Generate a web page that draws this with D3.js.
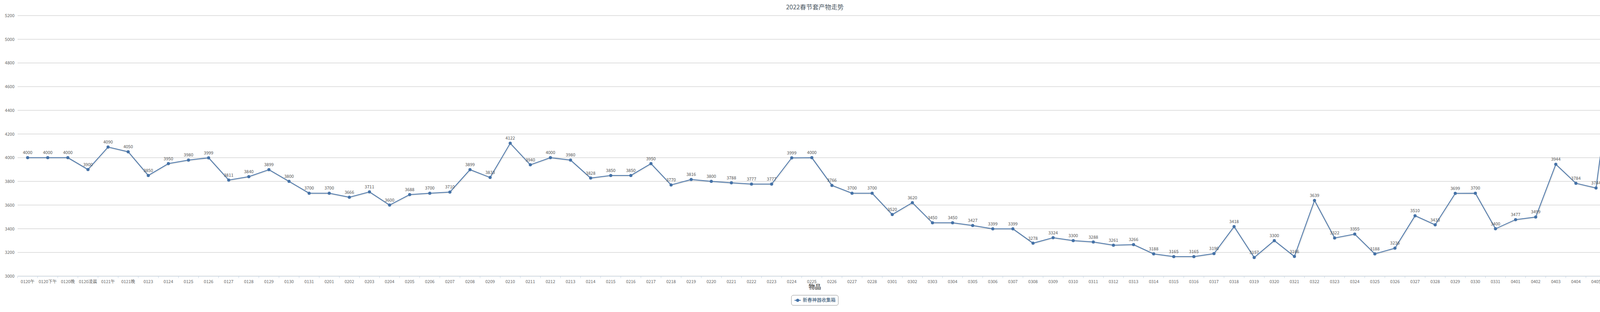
<!DOCTYPE html>
<html><head><meta charset="utf-8">
<script src="https://cdn.jsdelivr.net/npm/d3@7"></script>
<style>html,body{margin:0;padding:0;background:#fff;overflow:hidden}svg{display:block}text{font-family:"Noto Sans CJK SC","Open Sans",sans-serif}</style>
</head><body><svg id="c" width="4172" height="800" viewBox="0 0 4172 800"></svg>
<script>
const categories=["0120午","0120下午","0120晚","0120凌晨","0121午","0121晚","0123","0124","0125","0126","0127","0128","0129","0130","0131",
"0201","0202","0203","0204","0205","0206","0207","0208","0209","0210","0211","0212","0213","0214","0215","0216","0217","0218","0219","0220","0221","0222","0223","0224","0225","0226","0227","0228",
"0301","0302","0303","0304","0305","0306","0307","0308","0309","0310","0311","0312","0313","0314","0315","0316","0317","0318","0319","0320","0321","0322","0323","0324","0325","0326","0327","0328","0329","0330","0331",
"0401","0402","0403","0404","0405","0406"];
const values=[4000,4000,4000,3900,4090,4050,3850,3950,3980,3999,3811,3840,3899,3800,3700,
3700,3666,3711,3600,3688,3700,3710,3899,3833,4122,3940,4000,3980,3828,3850,3850,3950,3770,3816,3800,3788,3777,3777,3999,4000,3766,3700,3700,
3520,3620,3450,3450,3427,3399,3399,3278,3324,3300,3288,3261,3266,3188,3165,3165,3190,3418,3157,3300,3166,3639,3322,3355,3188,3236,3510,3433,3699,3700,3400,
3477,3499,3944,3784,3744,5000];
const yTicks=[3000,3200,3400,3600,3800,4000,4200,4400,4600,4800,5000,5200];
const seriesName="新春神器收集箱", title="2022春节套产物走势", xTitle="物品";
const color="#4572a7";
const svg=d3.select("#c");
const L=45,R=4163,T=40,B=708;
const x=d3.scaleBand().domain(categories).range([L,R]);
const y=d3.scaleLinear().domain([3000,5200]).range([B,T]);
svg.append("text").attr("x",2086).attr("y",24).attr("text-anchor","middle").attr("font-size",16).attr("fill","#4d5964").text(title);
const gy=svg.append("g");
gy.selectAll("line").data(yTicks).join("line").attr("x1",L).attr("x2",R).attr("y1",d=>y(d)).attr("y2",d=>y(d)).attr("stroke","#c0c0c0");
gy.selectAll("text").data(yTicks).join("text").attr("x",L-8).attr("y",d=>y(d)+4).attr("text-anchor","end").attr("font-size",11).attr("fill","#666").text(d=>d);
const gx=svg.append("g").attr("transform",`translate(0,${B})`).call(d3.axisBottom(x).tickSize(0).tickPadding(10));
gx.select(".domain").attr("stroke","#c0d0e0");
gx.selectAll("text").attr("font-size",11).attr("fill","#666").style("font-family",'"Noto Sans CJK SC",sans-serif');
svg.append("g").selectAll("line").data(categories).join("line").attr("x1",d=>x(d)).attr("x2",d=>x(d)).attr("y1",B).attr("y2",B+5).attr("stroke","#c0d0e0");
svg.append("text").attr("x",2086).attr("y",741).attr("text-anchor","middle").attr("font-size",16).attr("font-weight","bold").attr("fill","#666").text(xTitle);
const cx=(d,i)=>x(categories[i])+x.bandwidth()/2;
const line=d3.line().x((d,i)=>cx(d,i)).y(d=>y(d));
svg.append("path").datum(values).attr("d",line).attr("fill","none").attr("stroke","#000").attr("stroke-opacity",0.08).attr("stroke-width",5).attr("transform","translate(1,1)");
svg.append("path").datum(values).attr("d",line).attr("fill","none").attr("stroke",color).attr("stroke-width",2);
svg.append("g").selectAll("circle").data(values).join("circle").attr("cx",cx).attr("cy",d=>y(d)).attr("r",4).attr("fill",color);
svg.append("g").selectAll("text").data(values).join("text").attr("x",cx).attr("y",d=>y(d)-9).attr("text-anchor","middle").attr("font-size",11).attr("fill","#555").text(d=>d);
const lg=svg.append("g").attr("transform","translate(2026,757)");
lg.append("rect").attr("width",120).attr("height",26).attr("rx",5).attr("fill","#fff").attr("stroke","#909090");
lg.append("line").attr("x1",8).attr("x2",24).attr("y1",13).attr("y2",13).attr("stroke",color).attr("stroke-width",2);
lg.append("circle").attr("cx",16).attr("cy",13).attr("r",4).attr("fill",color);
lg.append("text").attr("x",29).attr("y",17).attr("font-size",12).attr("fill","#274b6d").text(seriesName);
svg.append("text").attr("x",4162).attr("y",794).attr("text-anchor","end").attr("font-size",9).attr("fill","#909090").text("Highcharts.com");
</script></body></html>
